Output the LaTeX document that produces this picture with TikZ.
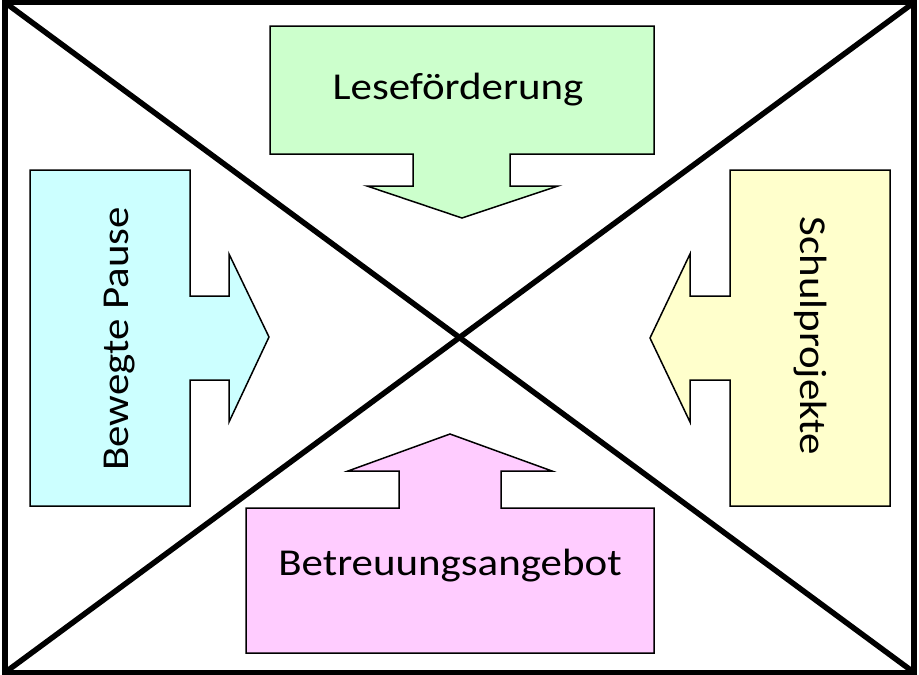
\documentclass[tikz,border=0pt]{standalone}
\usepackage{fontspec}
\setmainfont{Carlito}
\definecolor{cgreen}{HTML}{CCFFCC}
\definecolor{ccyan}{HTML}{CCFFFF}
\definecolor{cyellow}{HTML}{FFFFCC}
\definecolor{cpink}{HTML}{FFCCFF}
\tikzset{
  callout/.style={draw=black, line width=1.5pt, line join=miter},
  thickline/.style={draw=black, line width=5.5pt},
  lbl/.style={inner sep=0pt, font=\fontsize{38}{44}\selectfont},
}
\newcommand{\wide}[1]{\scalebox{1.13}[1]{#1}}
\begin{document}
\begin{tikzpicture}[x=1pt,y=-1pt]
\useasboundingbox (0,0) rectangle (919,675);
\fill[white] (0,0) rectangle (919,675);
% frame corners
\coordinate (tl) at (5,2.5);
\coordinate (tr) at (914,2.5);
\coordinate (bl) at (5,672.5);
\coordinate (br) at (914,672.5);
\draw[thickline] (tl) -- (br);
\draw[thickline] (tr) -- (bl);
% green (top)
\draw[callout, fill=cgreen] (270,26) -- (654,26) -- (654,154) -- (510,154) -- (510,186) -- (558,186) -- (462,218) -- (367,186) -- (413,186) -- (413,154) -- (270,154) -- cycle;
% cyan (left)
\draw[callout, fill=ccyan] (30,170) -- (190,170) -- (190,296) -- (229,296) -- (229,254) -- (269,337) -- (229,422) -- (229,380) -- (190,380) -- (190,506) -- (30,506) -- cycle;
% yellow (right)
\draw[callout, fill=cyellow] (890,170) -- (730,170) -- (730,296) -- (690,296) -- (690,254) -- (650,338) -- (690,422) -- (690,380) -- (730,380) -- (730,506) -- (890,506) -- cycle;
% pink (bottom)
\draw[callout, fill=cpink] (246,653) -- (654,653) -- (654,508) -- (501,508) -- (501,471) -- (552,471) -- (450,434) -- (348,471) -- (399,471) -- (399,508) -- (246,508) -- cycle;
% frame
\draw[thickline, line join=miter] (tl) -- (tr) -- (br) -- (bl) -- cycle;
% labels
\node[lbl, anchor=base] (lese) at (458,99) {\wide{Leseförderung}};
\node[lbl, anchor=base] (betr) at (450,575) {\wide{Betreuungsangebot}};
\node[lbl, anchor=base, rotate=90] (bew) at (128,339) {\wide{Bewegte Pause}};
\node[lbl, anchor=base, rotate=-90] (schul) at (800,336) {\wide{Schulprojekte}};
\end{tikzpicture}
\end{document}
